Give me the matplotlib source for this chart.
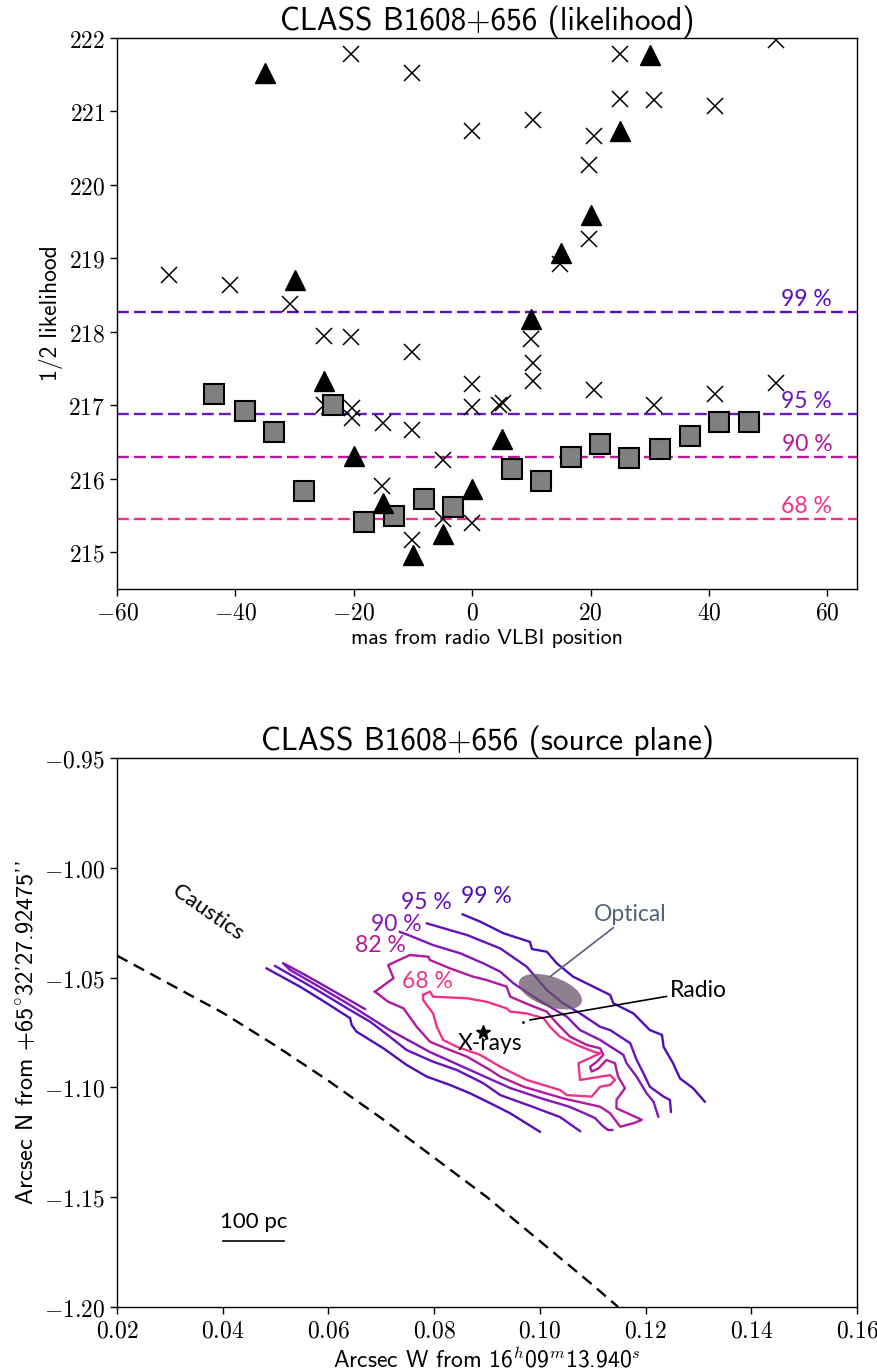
import matplotlib
matplotlib.use("Agg")
import matplotlib.pyplot as plt
from matplotlib.patches import Ellipse
from matplotlib.ticker import FuncFormatter, FixedLocator
import matplotlib.transforms as mtransforms

plt.rcParams['mathtext.fontset'] = 'cm'
plt.rcParams['axes.unicode_minus'] = True

SANS = ['cmss10', 'DejaVu Sans']
ANN = ['Lato', 'DejaVu Sans']

# ---------------- top panel data ----------------
cross_x = [-51.25, -41, -30.75, -20.5, -10.25, 0, -25, -20.5, -10.25, -25, -20.25, -20.25,
           -15, -10.25, -5, 0, 0, -15.25, -5, 0, -10.25, 10.25, 20.5, 19.75, 19.75, 14.75,
           25, 25, 30.75, 41, 51.25, 10, 10.25, 10.25, 4.5, 5.25, 20.5, 30.75, 41, 51.25]
cross_y = [218.77, 218.64, 218.38, 221.78, 221.53, 220.73, 217.95, 217.93, 217.73, 217.0,
           216.97, 216.83, 216.76, 216.67, 216.26, 217.29, 216.98, 215.9, 215.45, 215.40,
           215.17, 220.89, 220.66, 220.27, 219.26, 218.93, 221.78, 221.17, 221.15, 221.08,
           221.97, 217.9, 217.57, 217.33, 217.0, 217.03, 217.21, 217.0, 217.15, 217.31]

tri_x = [-35, 30, 25, 20, 15, 10, -30, -25, -20, 5, -15, 0, -5, -10]
tri_y = [221.53, 221.77, 220.73, 219.59, 219.07, 218.17, 218.71, 217.33, 216.31, 216.54,
         215.67, 215.86, 215.25, 214.96]

sq_x = [-43.6, -38.3, -33.5, -28.5, -23.6, -18.3, -13.2, -8.2, -3.2, 6.7, 11.6, 16.7,
        21.6, 26.5, 31.7, 36.8, 41.7, 46.75]
sq_y = [217.16, 216.92, 216.64, 215.84, 217.01, 215.41, 215.50, 215.73, 215.62, 216.14,
        215.97, 216.30, 216.48, 216.28, 216.40, 216.58, 216.77, 216.77]

top_levels = [218.27, 216.88, 216.30, 215.45]
top_level_names = ['99 %', '95 %', '90 %', '68 %']
top_level_colors = ['#5a10c0', '#6a16c2', '#b31aa0', '#f2328c']

top_xticks = [-60, -40, -20, 0, 20, 40, 60]
top_yticks = [215, 216, 217, 218, 219, 220, 221, 222]

# ---------------- bottom panel data ----------------
c99u_x = [0.0854, 0.0887, 0.0931, 0.0981, 0.0985, 0.1013, 0.1032, 0.1063, 0.1101, 0.1133,
          0.1139, 0.1177, 0.1208, 0.1231, 0.1234, 0.1252, 0.1265, 0.1290, 0.1312]
c99u_y = [-1.0212, -1.0245, -1.0298, -1.0337, -1.0370, -1.0382, -1.0435, -1.0496, -1.0541,
          -1.0579, -1.0617, -1.0663, -1.0739, -1.0761, -1.0815, -1.0890, -1.0959, -1.1004,
          -1.1065]
c99l_x = [0.0483, 0.0546, 0.0597, 0.0641, 0.0644, 0.0653, 0.0704, 0.0748, 0.0786, 0.0830,
          0.0868, 0.0906, 0.0944, 0.1000]
c99l_y = [-1.0458, -1.0541, -1.0617, -1.0685, -1.0716, -1.0746, -1.0822, -1.0898, -1.0951,
          -1.0989, -1.1027, -1.1072, -1.1118, -1.1202]

c95u_x = [0.0786, 0.0862, 0.0925, 0.0975, 0.1013, 0.1044, 0.1076, 0.1114, 0.1133, 0.1171,
          0.1183, 0.1196, 0.1208, 0.1234, 0.1246, 0.1248]
c95u_y = [-1.0253, -1.0306, -1.0367, -1.0450, -1.0556, -1.0617, -1.0663, -1.0724, -1.0739,
          -1.0799, -1.0875, -1.0936, -1.0997, -1.1042, -1.1057, -1.1111]
c95l_x = [0.0499, 0.0578, 0.0641, 0.0679, 0.0716, 0.0748, 0.0798, 0.0843, 0.0893, 0.0925,
          0.0987, 0.1038, 0.1076]
c95l_y = [-1.0447, -1.0556, -1.0648, -1.0701, -1.0769, -1.0830, -1.0883, -1.0921, -1.0981,
          -1.1035, -1.1089, -1.1135, -1.1199]

c90u_x = [0.0735, 0.0751, 0.0798, 0.0849, 0.0893, 0.0925, 0.0950, 0.0988, 0.1019, 0.1051,
          0.1076, 0.1114, 0.1158, 0.1164, 0.1183, 0.1202, 0.1215, 0.1224]
c90u_y = [-1.0292, -1.0306, -1.0352, -1.0389, -1.0435, -1.0473, -1.0526, -1.0587, -1.0633,
          -1.0678, -1.0739, -1.0784, -1.0852, -1.0890, -1.0951, -1.1027, -1.1065, -1.1133]
c90l_x = [0.0669, 0.0603, 0.0556, 0.0514, 0.0527, 0.0577, 0.0641, 0.0716, 0.0792, 0.0868,
          0.0944, 0.1000, 0.1057, 0.1104, 0.1119, 0.1129, 0.1137]
c90l_y = [-1.0643, -1.0552, -1.0488, -1.0434, -1.0465, -1.0534, -1.0625, -1.0739, -1.0839,
          -1.0921, -1.1003, -1.1048, -1.1089, -1.1139, -1.1176, -1.1194, -1.1194]

c82_x = [0.0688, 0.0723, 0.0713, 0.0754, 0.0789, 0.0792, 0.0830, 0.0874, 0.0899, 0.0937,
         0.0944, 0.0981, 0.1013, 0.1032, 0.1057, 0.1089, 0.1114, 0.1120, 0.1108, 0.1095,
         0.1098, 0.1111, 0.1126, 0.1142, 0.1148, 0.1161, 0.1145, 0.1145, 0.1193, 0.1177,
         0.1152, 0.1133, 0.1114, 0.1044, 0.0969, 0.0925, 0.0906, 0.0862, 0.0830, 0.0792,
         0.0767, 0.0742, 0.0713, 0.0688]
c82_y = [-1.0564, -1.0503, -1.0443, -1.0397, -1.0405, -1.0420, -1.0458, -1.0496, -1.0511,
         -1.0541, -1.0587, -1.0625, -1.0655, -1.0708, -1.0769, -1.0807, -1.0822, -1.0852,
         -1.0883, -1.0906, -1.0928, -1.0913, -1.0875, -1.0890, -1.0951, -1.1004, -1.1057,
         -1.1095, -1.1148, -1.1163, -1.1179, -1.1118, -1.1088, -1.1050, -1.0997, -1.0951,
         -1.0921, -1.0860, -1.0830, -1.0792, -1.0724, -1.0640, -1.0610, -1.0564]

c68_x = [0.0779, 0.0792, 0.0798, 0.0862, 0.0899, 0.0937, 0.0944, 0.0975, 0.1007, 0.1019,
         0.1038, 0.1070, 0.1101, 0.1114, 0.1073, 0.1076, 0.1133, 0.1142, 0.1133, 0.1114,
         0.1098, 0.1051, 0.1038, 0.0975, 0.0925, 0.0887, 0.0843, 0.0817, 0.0805, 0.0798,
         0.0779, 0.0779]
c68_y = [-1.0579, -1.0564, -1.0587, -1.0594, -1.0610, -1.0640, -1.0655, -1.0663, -1.0685,
         -1.0724, -1.0769, -1.0807, -1.0837, -1.0845, -1.0890, -1.0966, -1.0944, -1.0966,
         -1.0989, -1.0997, -1.1042, -1.1035, -1.1012, -1.0966, -1.0906, -1.0852, -1.0815,
         -1.0784, -1.0724, -1.0663, -1.0602, -1.0579]

contour_names = ['99 %', '95 %', '90 %', '82 %', '68 %']
contour_colors = ['#4e0fbb', '#6512be', '#8216b6', '#b3199f', '#f2318b']
contour_label_x = [0.0898, 0.0786, 0.0728, 0.0698, 0.0787]
contour_label_y = [-1.0132, -1.0158, -1.0260, -1.0356, -1.0519]

caustic_x = [0.020, 0.030, 0.040, 0.050, 0.060, 0.070, 0.080, 0.090, 0.100, 0.110, 0.1148]
caustic_y = [-1.040, -1.053, -1.066, -1.081, -1.097, -1.114, -1.132, -1.150, -1.170,
             -1.190, -1.200]

optical_pos = (0.1020, -1.0564)
radio_pos = (0.0968, -1.0701)
xray_pos = (0.0893, -1.0746)
scalebar_x = [0.0400, 0.0516]
scalebar_y = -1.170

bot_xticks = [0.02, 0.04, 0.06, 0.08, 0.10, 0.12, 0.14, 0.16]
bot_yticks = [-1.20, -1.15, -1.10, -1.05, -1.00, -0.95]

TICK_FS = 17
TITLE_FS = 22.5
ANN_FS = 16

fig = plt.figure(figsize=(8.78, 13.72), dpi=100)
ax1 = fig.add_axes([0.1333, 0.5707, 0.8428, 0.4016])
ax2 = fig.add_axes([0.1333, 0.0474, 0.8428, 0.4001])

# ---------------- top panel ----------------
for lev, col in zip(top_levels, top_level_colors):
    ax1.axhline(lev, color=col, lw=1.7, dashes=(5, 2.2), zorder=1)
for lev, name, col in zip(top_levels, top_level_names, top_level_colors):
    ax1.text(60.8, lev + 0.03, name, color=col, ha='right', va='bottom',
             fontsize=ANN_FS + 0.5, family=ANN)

ax1.plot(cross_x, cross_y, 'x', color='k', ms=12, mew=1.1, ls='none', zorder=2)
ax1.plot(sq_x, sq_y, 's', mfc='#808080', mec='k', ms=14, mew=1.5, ls='none', zorder=3)
ax1.plot(tri_x, tri_y, '^', color='k', ms=15, ls='none', zorder=4)

ax1.set_xlim(-60, 65)
ax1.set_ylim(214.5, 222)
ax1.xaxis.set_major_locator(FixedLocator(top_xticks))
ax1.yaxis.set_major_locator(FixedLocator(top_yticks))
ax1.xaxis.set_major_formatter(FuncFormatter(lambda v, p: f"${int(round(v))}$"))
ax1.yaxis.set_major_formatter(FuncFormatter(lambda v, p: f"${int(round(v))}$"))
ax1.set_title('CLASS B1608+656 (likelihood)', family=SANS, fontsize=TITLE_FS, pad=5)
ax1.set_xlabel('mas from radio VLBI position', family=SANS, fontsize=15.8, labelpad=3)
ax1.set_ylabel('1/2 likelihood', family=SANS, fontsize=17)

# ---------------- bottom panel ----------------
pieces = [
    (c99u_x, c99u_y, 0), (c99l_x, c99l_y, 0),
    (c95u_x, c95u_y, 1), (c95l_x, c95l_y, 1),
    (c90u_x, c90u_y, 2), (c90l_x, c90l_y, 2),
    (c82_x, c82_y, 3), (c68_x, c68_y, 4),
]
for xs, ys, i in pieces:
    ax2.plot(xs, ys, color=contour_colors[i], lw=1.7, zorder=2)
for name, col, lx, ly in zip(contour_names, contour_colors, contour_label_x, contour_label_y):
    ax2.text(lx, ly, name, color=col, ha='center', va='center', fontsize=ANN_FS + 0.5,
             family=ANN)

ax2.plot(caustic_x, caustic_y, color='k', lw=1.7, dashes=(5, 3), zorder=2)
ax2.text(0.0372, -1.0205, 'Caustics', rotation=-35, ha='center', va='center',
         fontsize=ANN_FS, family=ANN, rotation_mode='anchor')

# optical ellipse (size given in inches, positioned at data point)
ell_tr = fig.dpi_scale_trans + mtransforms.ScaledTranslation(optical_pos[0], optical_pos[1],
                                                            ax2.transData)
ell = Ellipse((0, 0), width=0.66, height=0.30, angle=-19, transform=ell_tr,
              facecolor='#6a566a', alpha=0.75, edgecolor='none', zorder=3)
ax2.add_patch(ell)
ax2.annotate('Optical', xy=(0.1019, -1.0496), xytext=(0.1103, -1.0212),
             color='#55607a', fontsize=ANN_FS + 0.5, family=ANN, ha='left', va='center',
             arrowprops=dict(arrowstyle='-', color='#55607a', lw=1.2, shrinkA=0, shrinkB=0))

ax2.plot([radio_pos[0]], [radio_pos[1]], '.', color='k', ms=2, zorder=4)
ax2.annotate('Radio', xy=(0.0981, -1.0693), xytext=(0.1245, -1.0561),
             color='k', fontsize=ANN_FS + 0.5, family=ANN, ha='left', va='center',
             arrowprops=dict(arrowstyle='-', color='k', lw=1.2, shrinkA=0, shrinkB=0))

ax2.plot([xray_pos[0]], [xray_pos[1]], '*', color='k', ms=10, zorder=4)
ax2.text(0.0906, -1.0802, 'X-rays', ha='center', va='center', fontsize=ANN_FS + 0.5,
         family=ANN)

ax2.plot(scalebar_x, [scalebar_y, scalebar_y], color='k', lw=1.2)
ax2.text(sum(scalebar_x) / 2, scalebar_y + 0.0087, '100 pc', ha='center', va='center',
         fontsize=ANN_FS, family=ANN)

ax2.set_xlim(0.02, 0.16)
ax2.set_ylim(-1.20, -0.95)
ax2.xaxis.set_major_locator(FixedLocator(bot_xticks))
ax2.yaxis.set_major_locator(FixedLocator(bot_yticks))
ax2.xaxis.set_major_formatter(FuncFormatter(lambda v, p: f"${v:.2f}$"))
ax2.yaxis.set_major_formatter(FuncFormatter(lambda v, p: f"${v:.2f}$"))
ax2.set_title('CLASS B1608+656 (source plane)', family=SANS, fontsize=TITLE_FS, pad=5)
ax2.set_xlabel(r'Arcsec W from 16$^h$09$^m$13.940$^s$', family=SANS, fontsize=17, labelpad=3)
ax2.set_ylabel(r"Arcsec N from +65$^{\circ}$32'27.92475''", family=SANS, fontsize=17.5)

for ax in (ax1, ax2):
    ax.tick_params(labelsize=TICK_FS, length=5, width=1)
    for s in ax.spines.values():
        s.set_linewidth(1.0)

fig.savefig('out.png', dpi=100)
